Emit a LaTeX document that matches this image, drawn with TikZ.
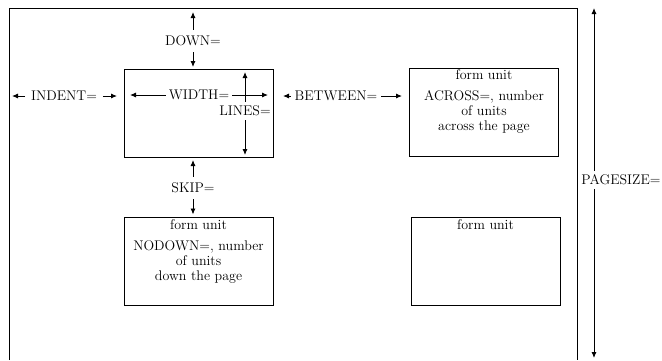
\documentclass[tikz,border=0pt]{standalone}
\usetikzlibrary{calc,positioning,arrows.meta}

\begin{document}
\begin{tikzpicture}[x=1pt,y=-1pt,font=\fontsize{14}{15}\selectfont,line width=0.9pt,
    every node/.style={inner sep=2pt,outer sep=0pt},
    unit/.style={draw,minimum width=149pt,minimum height=88pt},
    dim/.style={-{Latex[length=6pt,width=5pt]},shorten <=4pt}]
  \useasboundingbox (0,0) rectangle (662,360);

  % the page
  \draw (9,360) -- (9,8) -- (577,8) -- (577,360);

  % form units
  \draw (198.5,113) node[unit] (u1) {};
  \draw (484,112) node[unit] (u2) {};
  \draw (198.5,261.5) node[unit] (u3) {};
  \draw (485.5,261.5) node[unit] (u4) {};

  \node[below=0pt of u2.north, align=center] (t2) {form unit\\[6pt]ACROSS=, number\\of units\\across the page};
  \node[below=0pt of u3.north, align=center] (t3) {form unit\\[6pt]NODOWN=, number\\of units\\down the page};
  \node[below=0pt of u4.north] (t4) {form unit};

  % labels
  \draw (193,41) node (ldown) {DOWN=};
  \draw (64,96) node (lindent) {INDENT=};
  \draw (199,95) node (lwidth) {WIDTH=};
  \draw (245,111) node (llines) {LINES=};
  \draw (336,96) node (lbetween) {BETWEEN=};
  \draw (193,188) node (lskip) {SKIP=};
  \draw (621,180) node (lpage) {PAGESIZE=};

  \coordinate (dtop) at (193,12);
  \coordinate (ileft) at (12,96);
  \coordinate (bleft) at (283,96);
  \coordinate (bright) at (402,96);
  \coordinate (pstop) at (594,8);
  \coordinate (psbot) at (594,358);

  \draw[dim] (ldown) -- (dtop);
  \draw[dim,shorten >=2pt] (ldown) -- (ldown |- u1.north);

  \draw[dim] (lindent) -- (ileft);
  \draw[dim,shorten >=7pt] (lindent) -- (lindent -| u1.west);

  \draw[dim,shorten <=1pt,shorten >=6pt] (lwidth) -- (lwidth -| u1.west);
  \draw[dim,shorten <=1pt,shorten >=5pt] (lwidth) -- (lwidth -| u1.east);

  \draw[dim,shorten <=2pt,shorten >=3pt] (llines) -- (llines |- u1.north);
  \draw[dim,shorten <=2pt,shorten >=2pt] (llines) -- (llines |- u1.south);

  \draw[dim,shorten <=2pt] (lbetween) -- (bleft);
  \draw[dim,shorten <=2pt] (lbetween) -- (bright);

  \draw[dim,shorten >=3pt] (lskip) -- (lskip |- u1.south);
  \draw[dim,shorten >=3pt] (lskip) -- (lskip |- u3.north);

  \draw[dim,shorten <=2pt] (lpage.north -| pstop) -- (pstop);
  \draw[dim,shorten <=2pt] (lpage.south -| pstop) -- (psbot);
\end{tikzpicture}
\end{document}
